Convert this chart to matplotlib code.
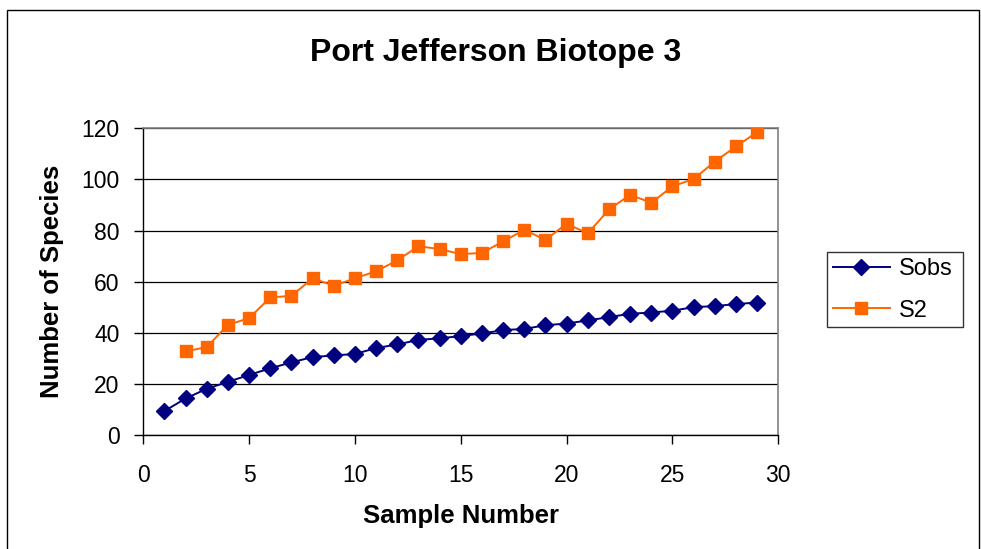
import matplotlib

matplotlib.use("Agg")
import matplotlib.pyplot as plt
from matplotlib.patches import Rectangle

# sample numbers and species counts
sample_sobs = list(range(1, 30))
sobs = [9.5, 14.4, 18.2, 20.9, 23.6, 26.2, 28.5, 30.6, 31.2, 31.8,
        34.1, 35.5, 37.3, 37.9, 38.8, 39.8, 41.1, 41.6, 43.0, 43.7,
        44.9, 46.2, 47.5, 48.0, 48.7, 50.1, 50.5, 51.3, 51.9]

sample_s2 = list(range(2, 30))
s2 = [32.8, 34.5, 43.2, 45.8, 53.9, 54.5, 61.4, 58.4, 61.4, 64.1,
      68.4, 73.9, 72.8, 70.8, 71.3, 75.8, 80.3, 76.4, 82.7, 78.9,
      88.3, 94.0, 90.9, 97.3, 100.2, 107.0, 112.9, 118.5]

x_ticks = [0, 5, 10, 15, 20, 25, 30]
y_ticks = [0, 20, 40, 60, 80, 100, 120]

plt.rcParams["font.family"] = ["Liberation Sans", "DejaVu Sans"]

fig = plt.figure(figsize=(9.81, 5.49), dpi=100)
fig.patch.set_facecolor("white")

# outer chart border
fig.patches.append(Rectangle((7 / 981, -0.05), 972 / 981, 1.05 - 10 / 549,
                             transform=fig.transFigure, fill=False,
                             edgecolor="black", lw=1.0))

ax = fig.add_axes([0.1461, 0.2071, 0.6473, 0.5592])
ax.plot(sample_sobs, sobs, color="#000080", lw=1.4, marker="D", ms=8.5,
        label="Sobs", zorder=3)
ax.plot(sample_s2, s2, color="#FF6600", lw=1.4, marker="s", ms=9,
        label="S2", zorder=3)

ax.set_xlim(0, 30)
ax.set_ylim(0, 120)
ax.set_xticks(x_ticks)
ax.set_yticks(y_ticks)
ax.grid(axis="y", color="black", lw=0.9)
ax.set_axisbelow(True)

for side in ("top", "right"):
    ax.spines[side].set_color("#808080")
    ax.spines[side].set_linewidth(1.2)
for side in ("left", "bottom"):
    ax.spines[side].set_color("black")
    ax.spines[side].set_linewidth(1.0)

ax.tick_params(direction="out", length=6.5, width=1, labelsize=16.5)
ax.tick_params(axis="x", pad=14)
ax.tick_params(axis="y", pad=10.5)

fig.text(496 / 981, 1 - 52.6 / 549, "Port Jefferson Biotope 3",
         fontsize=23, fontweight="bold", ha="center", va="center")
ax.set_xlabel("Sample Number", fontsize=18.5, fontweight="bold", va="center")
ax.xaxis.set_label_coords(0.5, -0.262)
ax.set_ylabel("Number of Species", fontsize=18.5, fontweight="bold", va="center")
ax.yaxis.set_label_coords(-0.1443, 0.5)

leg = fig.legend(loc="upper left", bbox_to_anchor=(827 / 981, 1 - 252 / 549, 136 / 981, 0),
                 mode="expand", fontsize=17, frameon=True, fancybox=False,
                 edgecolor="black", handlelength=2.4, handletextpad=0.38,
                 borderaxespad=0, borderpad=0.25, labelspacing=0.83)
leg.get_frame().set_linewidth(1.0)

fig.savefig("out.png", dpi=100)
